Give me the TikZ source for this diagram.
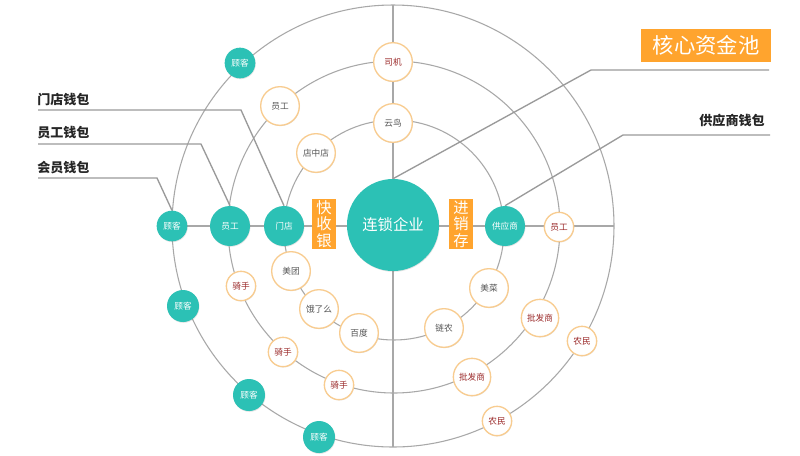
\documentclass[tikz,border=0pt]{standalone}
\usepackage{fontspec}
\setmainfont{Noto Sans CJK SC}
\usetikzlibrary{backgrounds,shadows}
\definecolor{tealc}{HTML}{2CC1B5}
\definecolor{orangebox}{HTML}{FFA42E}
\definecolor{orangeline}{HTML}{F8CC90}
\definecolor{ringc}{HTML}{A8A8A8}
\definecolor{leadc}{HTML}{9A9A9A}
\definecolor{graytxt}{HTML}{555555}
\definecolor{redtxt}{HTML}{9B2A2A}
\tikzset{
  shd/.style={drop shadow={shadow xshift=0.35pt,shadow yshift=-0.6pt,opacity=0.22}},
  tnode/.style={circle,fill=tealc,text=white,inner sep=0pt,shd,font=\fontsize{6.5}{7}\selectfont},
  tmid/.style={tnode,minimum size=30pt},
  tsmall/.style={tnode,minimum size=23pt},
  wnode/.style={circle,fill=white,draw=orangeline,line width=1pt,inner sep=0pt,shd,font=\fontsize{6.5}{7}\selectfont},
  wgray/.style={wnode,minimum size=29pt,text=graytxt},
  wred/.style={wnode,minimum size=29pt,text=redtxt},
  wredsmall/.style={wnode,minimum size=22pt,text=redtxt},
  obox/.style={rectangle,fill=orangebox,text=white,inner sep=0pt},
  ring/.style={draw=ringc,line width=0.8pt},
  lead/.style={draw=leadc,line width=1pt},
  ltext/.style={anchor=west,inner sep=0pt,text=black!85,font=\fontsize{9.8}{11}\selectfont\bfseries}
}
\begin{document}
\begin{tikzpicture}[x=0.75pt,y=-0.75pt]
\useasboundingbox (0,0) rectangle (800,455);
% central
\node[circle,fill=tealc,text=white,inner sep=0pt,minimum size=69pt,shd,font=\fontsize{11.5}{12}\selectfont] (core) at (393,225) {连锁企业};
% horizontal row
\node[tsmall] (gk1) at (172,226) {顾客};
\node[tmid] (yg1) at (230,226) {员工};
\node[tmid] (md) at (284,226) {门店};
\node[obox,minimum width=18pt,minimum height=37.5pt,font=\fontsize{11.5}{12.5}\selectfont,align=center] (kx) at (324,224) {快\\收\\银};
\node[obox,minimum width=18pt,minimum height=37.5pt,font=\fontsize{11.5}{12.5}\selectfont,align=center] (jx) at (461,224) {进\\销\\存};
\node[tmid] (gys) at (505,226) {供应商};
\node[wredsmall] (yg3) at (559,227) {员工};
% upper
\node[tsmall] (gk2) at (240,63) {顾客};
\node[wred] (sj) at (393,62) {司机};
\node[wgray] (yg2) at (280,106) {员工};
\node[wgray] (yn) at (393,123) {云鸟};
\node[wgray] (dzd) at (316,153) {店中店};
% ring 1 lower
\node[wgray] (mt) at (291,271) {美团};
\node[wgray] (elm) at (319,309) {饿了么};
\node[wgray] (bd) at (359,333) {百度};
\node[wgray] (ln) at (444,328) {链农};
\node[wgray] (mc) at (489,288) {美菜};
% ring 2 lower
\node[wredsmall] (qs1) at (241,286) {骑手};
\node[wredsmall] (qs2) at (283,352) {骑手};
\node[wredsmall] (qs3) at (339,385) {骑手};
\node[wred,minimum size=28pt] (pf1) at (540,318) {批发商};
\node[wred,minimum size=28pt] (pf2) at (472,377) {批发商};
% ring 3 lower
\node[tsmall,minimum size=24pt] (gk3) at (183,306) {顾客};
\node[tsmall,minimum size=24pt] (gk4) at (249,395) {顾客};
\node[tsmall,minimum size=24pt] (gk5) at (319,437) {顾客};
\node[wredsmall] (nm1) at (582,341) {农民};
\node[wredsmall] (nm2) at (497,421) {农民};
% title box
\node[obox,minimum width=97.5pt,minimum height=24.5pt,font=\fontsize{16}{17}\selectfont] (hx) at (706,45.5) {核心资金池};
% leader labels
\node[ltext] (t1) at (37,99) {门店钱包};
\node[ltext] (t2) at (37,133) {员工钱包};
\node[ltext] (t3) at (37,168) {会员钱包};
\node[ltext,anchor=east] (t4) at (765,120) {供应商钱包};
% coordinates
\coordinate (rend) at (614,226);
\coordinate (vtop) at (393,5);
\coordinate (vbot) at (393,447);
\coordinate (a1) at (38,110); \coordinate (b1) at (241,110);
\coordinate (a2) at (38,144); \coordinate (b2) at (201,144);
\coordinate (a3) at (38,178); \coordinate (b3) at (157,178);
\coordinate (a4) at (769,70); \coordinate (b4) at (591,70);
\coordinate (a5) at (770,135); \coordinate (b5) at (623,135);
\begin{scope}[on background layer]
\fill[white] (0,0) rectangle (800,455);
\draw[ring] (394,230) circle[radius=110];
\draw[ring] (394,227) circle[radius=166];
\draw[ring] (393,226) circle[radius=221];
\draw[ring] (gk1.center) -- (rend);
\draw[ring] (vtop) -- (vbot);
\draw[lead] (a1) -- (b1) -- (md.north);
\draw[lead] (a2) -- (b2) -- (yg1.north);
\draw[lead] (a3) -- (b3) -- (gk1.north);
\draw[lead] (a4) -- (b4) -- (core.north);
\draw[lead] (a5) -- (b5) -- (gys.north);
\end{scope}
\end{tikzpicture}
\end{document}
